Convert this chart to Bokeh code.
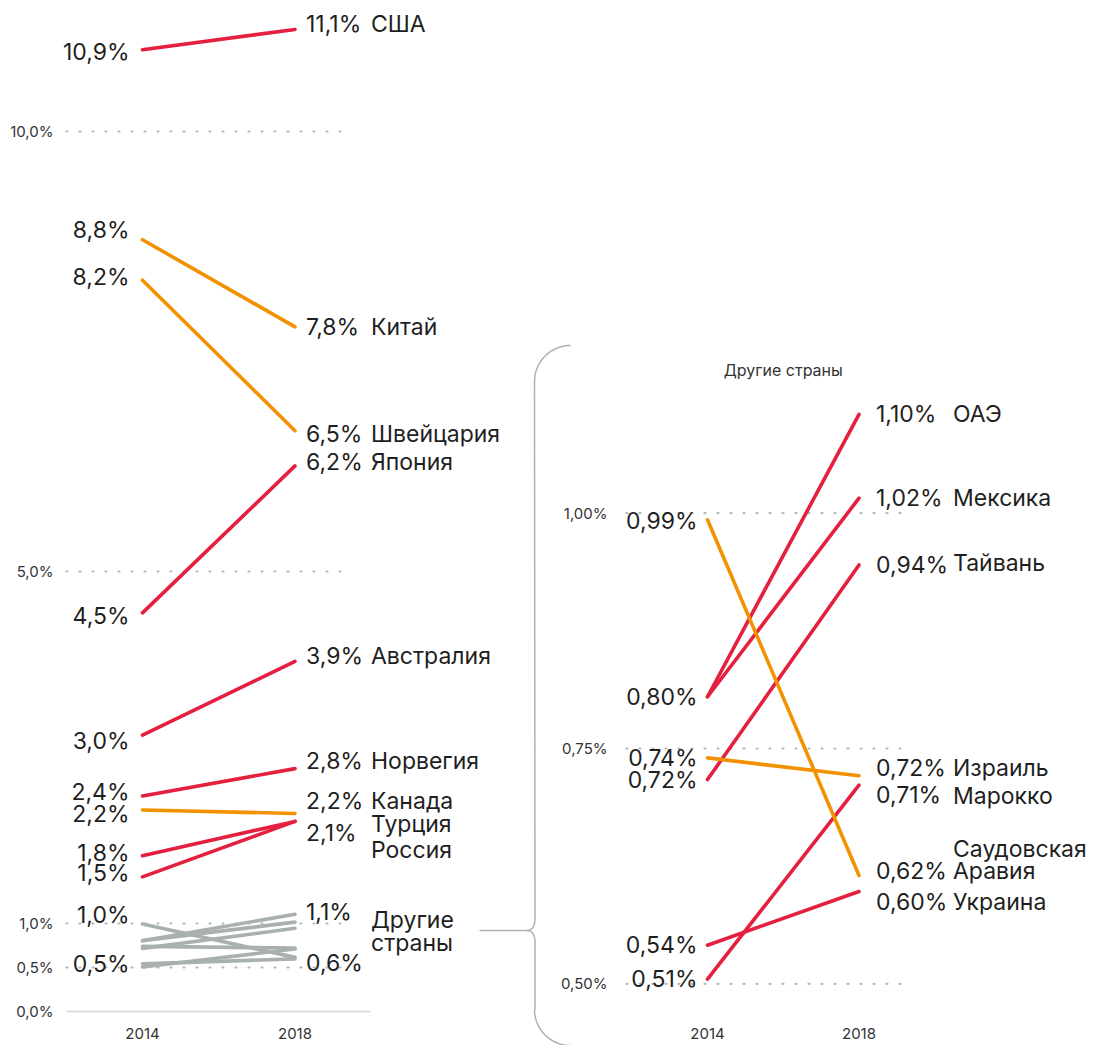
import numpy as np
from bokeh.plotting import figure
from bokeh.models import Range1d, ColumnDataSource
from bokeh.core.properties import value
from bokeh.embed import file_html
from bokeh.resources import INLINE

# ---------------- data ----------------
years = [2014, 2018]

main_names = ["США", "Китай", "Швейцария", "Япония", "Австралия",
              "Норвегия", "Канада", "Турция", "Россия"]
main_2014 = [10.93, 8.77, 8.31, 4.53, 3.14, 2.45, 2.29, 1.77, 1.53]
main_2018 = [11.16, 7.78, 6.60, 6.20, 3.98, 2.76, 2.25, 2.16, 2.16]
main_group = ["red", "orange", "orange", "red", "red", "red", "orange", "red", "red"]
main_lbl_2014 = ["10,9%", "8,8%", "8,2%", "4,5%", "3,0%", "2,4%", "2,2%", "1,8%", "1,5%"]
main_lbl_2018 = ["11,1%", "7,8%", "6,5%", "6,2%", "3,9%", "2,8%", "2,2%", "2,1%", ""]

other_names = ["ОАЭ", "Мексика", "Тайвань", "Израиль", "Марокко",
               "Саудовская\nАравия", "Украина"]
other_2014 = [0.805, 0.805, 0.717, 0.740, 0.505, 0.993, 0.541]
other_2018 = [1.105, 1.016, 0.945, 0.721, 0.711, 0.615, 0.598]
other_group = ["red", "red", "red", "orange", "red", "orange", "red"]
other_lbl_2014 = ["0,80%", "", "0,72%", "0,74%", "0,51%", "0,99%", "0,54%"]
other_lbl_2018 = ["1,10%", "1,02%", "0,94%", "0,72%", "0,71%", "0,62%", "0,60%"]

other_group_name = "Другие\nстраны"
other_range_2014 = ["1,0%", "0,5%"]   # max / min of the other countries, 2014
other_range_2018 = ["1,1%", "0,6%"]   # max / min of the other countries, 2018

main_ticks = [0, 0.5, 1, 5, 10]
main_tick_labels = ["0,0%", "0,5%", "1,0%", "5,0%", "10,0%"]
other_ticks = [0.5, 0.75, 1.0]
other_tick_labels = ["0,50%", "0,75%", "1,00%"]
other_title = "Другие страны"

# ---------------- styles / layout ----------------
COLORS = {"red": "#e5203f", "orange": "#f29200", "gray": "#a9b0b0"}
TEXT = "#1f1f1f"
FONT = value("Inter")
BIG = "23px"
SMALL = "15px"

W, H = 1099, 1045
M = 0  # figure origin on the page

# main panel geometry (page pixels)
MX0, MX1 = 142.0, 294.5
MY0, MPX = 1011.0, 88.0
# other panel geometry (page pixels)
OX0, OX1 = 707.0, 858.5
OY50, OPX = 983.3, 941.2

m_per_yr = (MX1 - MX0) / 4
o_per_yr = (OX1 - OX0) / 4
mx_start = 2014 - (MX0 - M) / m_per_yr
ox_start = 2014 - (OX0 - M) / o_per_yr
my_top = (MY0 - M) / MPX
my_bot = (MY0 - M - H) / MPX
oy_top = 0.5 + (OY50 - M) / OPX
oy_bot = 0.5 + (OY50 - M - H) / OPX

p = figure(width=W, height=H,
           x_range=Range1d(mx_start, mx_start + W / m_per_yr),
           y_range=Range1d(my_bot, my_top),
           output_backend="svg", toolbar_location=None,
           x_axis_type=None, y_axis_type=None, min_border=0,
           outline_line_color=None, background_fill_color="white")
p.extra_x_ranges = {"o": Range1d(ox_start, ox_start + W / o_per_yr)}
p.extra_y_ranges = {"o": Range1d(oy_bot, oy_top)}
p.grid.visible = False


def mx_px(px):
    return 2014 + (px - MX0) / m_per_yr


def ox_px(px):
    return 2014 + (px - OX0) / o_per_yr


def oy_px(py):
    return 0.5 + (OY50 - py) / OPX


# ---------------- grid lines ----------------
dot = dict(line_color="#b3b8b8", line_width=2.2, line_dash="1 12", line_cap="round")
for t in main_ticks:
    if t == 0:
        p.segment(x0=[mx_px(66)], x1=[mx_px(370)], y0=[t], y1=[t],
                  line_color="#d6d6d6", line_width=1.5)
    else:
        p.segment(x0=[mx_px(66)], x1=[mx_px(352)], y0=[t], y1=[t], **dot)
p.text(x=[mx_px(66)] * len(main_ticks), y=main_ticks, text=main_tick_labels,
       x_offset=-13, text_align="right", text_baseline="middle",
       text_font=FONT, text_font_size=SMALL, text_color="#333333")

for t in other_ticks:
    p.segment(x0=[ox_px(626)], x1=[ox_px(912)], y0=[t], y1=[t],
              x_range_name="o", y_range_name="o", **dot)
p.text(x=[ox_px(626)] * len(other_ticks), y=other_ticks, text=other_tick_labels,
       x_offset=-19, text_align="right", text_baseline="middle",
       text_font=FONT, text_font_size=SMALL, text_color="#333333",
       x_range_name="o", y_range_name="o")

# year labels
year_y = (MY0 - 1033) / MPX
p.text(x=years, y=[year_y] * 2, text=[str(y) for y in years],
       text_align="center", text_baseline="middle", text_font=FONT,
       text_font_size=SMALL, text_color="#333333")
p.text(x=years, y=[year_y] * 2, text=[str(y) for y in years],
       text_align="center", text_baseline="middle", text_font=FONT,
       text_font_size=SMALL, text_color="#333333", x_range_name="o")

# ---------------- main panel lines ----------------
gray_src = ColumnDataSource(dict(
    xs=[years] * len(other_2014),
    ys=[[a, b] for a, b in zip(other_2014, other_2018)]))
p.multi_line("xs", "ys", source=gray_src, line_color=COLORS["gray"],
             line_width=3.6, line_cap="round")

main_src = ColumnDataSource(dict(
    xs=[years] * len(main_2014),
    ys=[[a, b] for a, b in zip(main_2014, main_2018)],
    color=[COLORS[g] for g in main_group]))
p.multi_line("xs", "ys", source=main_src, line_color="color",
             line_width=3.6, line_cap="round")

# labels, main panel
nudge_m14 = [2, -10, -3, 3, 6, -4, 4, -3, -4]
nudge_m18 = [-5, 0, 3, -4, -5, -8, -13, 12, 0]
nudge_mname = [-5, 0, 3, -4, -5, -8, -13, 3, 29]
big = dict(text_font=FONT, text_font_size=BIG, text_color=TEXT, text_baseline="middle")
p.text(x=[2014] * len(main_2014), y=main_2014, text=main_lbl_2014,
       x_offset=-13, y_offset=nudge_m14, text_align="right", **big)
p.text(x=[2018] * len(main_2018), y=main_2018, text=main_lbl_2018,
       x_offset=11, y_offset=nudge_m18, text_align="left", **big)
p.text(x=[2018] * len(main_2018), y=main_2018, text=main_names,
       x_offset=76, y_offset=nudge_mname, text_align="left", **big)

# group labels for the other countries inside main panel
p.text(x=[2014, 2014], y=[max(other_2014), min(other_2014)], text=other_range_2014,
       x_offset=-13, y_offset=[-9, -3], text_align="right", **big)
p.text(x=[2018, 2018], y=[max(other_2018), min(other_2018)], text=other_range_2018,
       x_offset=11, y_offset=[-2, 4], text_align="left", **big)
g_lines = other_group_name.split("\n")
p.text(x=[2018] * len(g_lines), y=[1.0] * len(g_lines), text=g_lines,
       x_offset=76, y_offset=[-4 + 23 * i for i in range(len(g_lines))],
       text_align="left", **big)

# ---------------- other panel ----------------
other_src = ColumnDataSource(dict(
    xs=[years] * len(other_2014),
    ys=[[a, b] for a, b in zip(other_2014, other_2018)],
    color=[COLORS[g] for g in other_group]))
p.multi_line("xs", "ys", source=other_src, line_color="color",
             line_width=3.6, line_cap="round", x_range_name="o", y_range_name="o")

nudge_o14 = [0, 0, 0, 0, 0, 1, 0]
nudge_o18 = [0, 0, 0, -8, 10, -5, 10]
nudge_oname = [0, 0, -2, -8, 11, -27, 10]
p.text(x=[2014] * len(other_2014), y=other_2014, text=other_lbl_2014,
       x_offset=-10, y_offset=nudge_o14, text_align="right",
       x_range_name="o", y_range_name="o", **big)
p.text(x=[2018] * len(other_2018), y=other_2018, text=other_lbl_2018,
       x_offset=17, y_offset=nudge_o18, text_align="left",
       x_range_name="o", y_range_name="o", **big)
nx, ny, nt, no = [], [], [], []
for name, v, nd in zip(other_names, other_2018, nudge_oname):
    for i, line in enumerate(name.split("\n")):
        nx.append(2018); ny.append(v); nt.append(line); no.append(nd + 22 * i)
p.text(x=nx, y=ny, text=nt, x_offset=94, y_offset=no, text_align="left",
       x_range_name="o", y_range_name="o", **big)

p.text(x=[sum(years) / 2], y=[oy_px(369)], text=[other_title],
       text_align="center", text_baseline="middle", text_font=FONT,
       text_font_size="16px", text_color="#333333",
       x_range_name="o", y_range_name="o")

# ---------------- bracket ----------------
def arc(cx, cy, r, t0, t1, n=24):
    t = np.linspace(t0, t1, n)
    return list(cx + r * np.cos(t)), list(cy - r * np.sin(t))

bx = 534.5
ax1, ay1 = arc(570, 381, 36, np.pi / 2, np.pi)
path1_x = ax1 + [bx, bx]
path1_y = ay1 + [918, 918]
tt = np.linspace(0, 1, 12)
qx = (1 - tt) ** 2 * bx + 2 * (1 - tt) * tt * bx + tt ** 2 * 526
qy = (1 - tt) ** 2 * 918 + 2 * (1 - tt) * tt * 930 + tt ** 2 * 930
path1_x += list(qx) + [479]
path1_y += list(qy) + [930]
qx2 = (1 - tt) ** 2 * 526 + 2 * (1 - tt) * tt * bx + tt ** 2 * bx
qy2 = (1 - tt) ** 2 * 930 + 2 * (1 - tt) * tt * 930 + tt ** 2 * 942
ax2, ay2 = arc(570, 1009, 36, np.pi, 1.5 * np.pi)
path2_x = list(qx2) + [bx] + ax2
path2_y = list(qy2) + [1009] + ay2
p.multi_line(xs=[[ox_px(v) for v in path1_x], [ox_px(v) for v in path2_x]],
             ys=[[oy_px(v) for v in path1_y], [oy_px(v) for v in path2_y]],
             line_color="#b0b0b0", line_width=1.5,
             x_range_name="o", y_range_name="o")

open("out.html", "w").write(file_html(p, INLINE))
